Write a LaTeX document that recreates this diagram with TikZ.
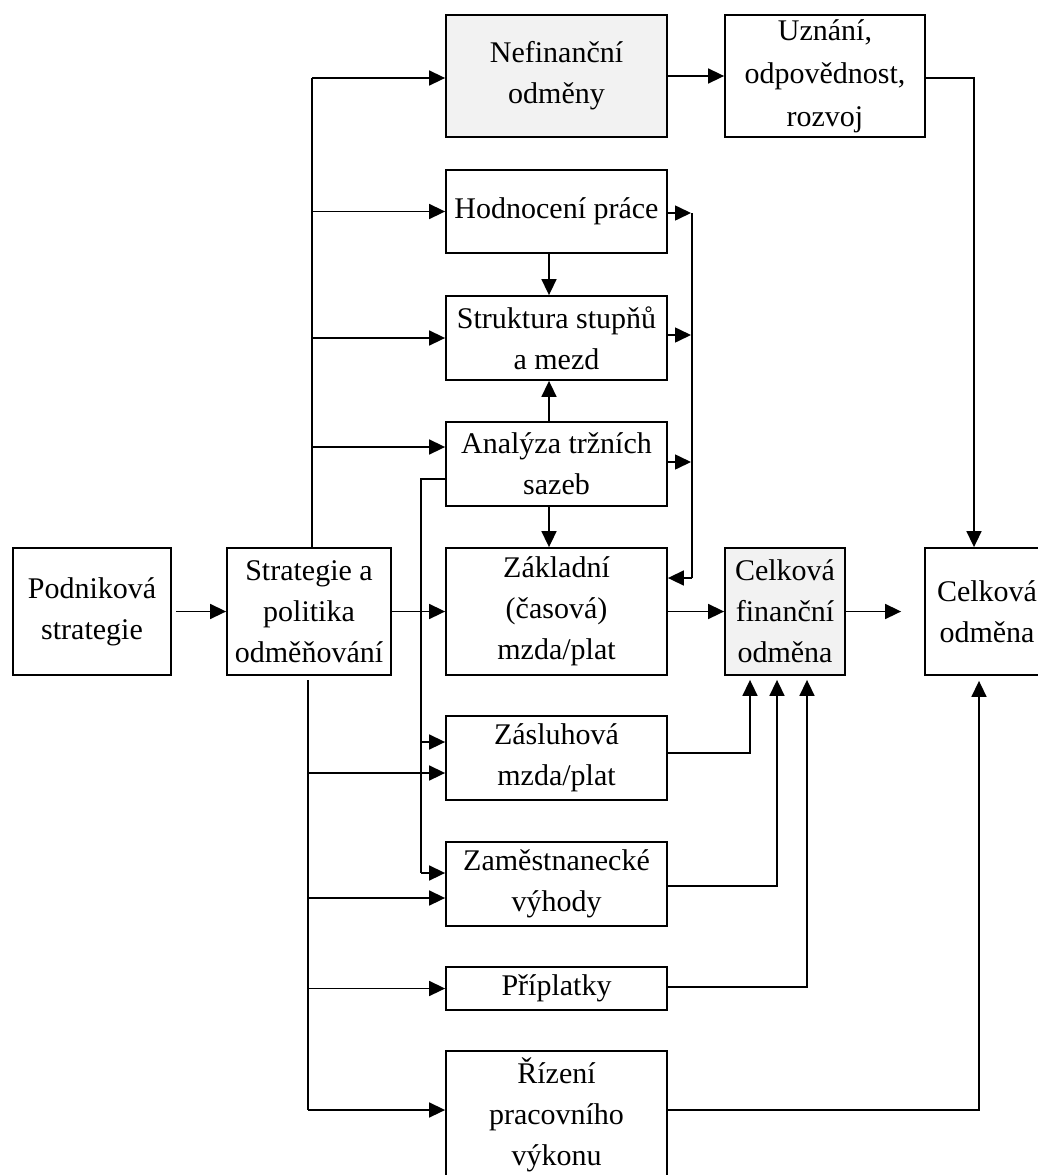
\documentclass[tikz,border=0pt]{standalone}
\usepackage{fontspec}
\setmainfont{Liberation Serif}
\usetikzlibrary{arrows.meta}
\definecolor{boxgray}{HTML}{F2F2F2}
\begin{document}
\begin{tikzpicture}[x=1pt,y=-1pt,
  bx/.style={draw,line width=1.8pt,inner sep=0pt,align=center,font=\fontsize{30}{41}\selectfont},
  mid/.style={bx,minimum width=221pt},
  gr/.style={fill=boxgray},
  ln/.style={line width=1.6pt},
  arr/.style={ln,-{Triangle[length=16pt,width=15pt]}}]
\useasboundingbox (0,0) rectangle (1038,1175);
\clip (0,0) rectangle (1038,1175);

% nodes
\node[bx,minimum width=158pt,minimum height=127pt] (pod) at (92,611.5) {Podniková\\strategie};
\node[bx,minimum width=164pt,minimum height=127pt] (strat) at (309,611.5) {Strategie a\\politika\\odměňování};
\node[mid,gr,minimum height=122pt] (nef) at (556.5,76) {Nefinanční\\odměny};
\node[bx,minimum width=200pt,minimum height=122pt,font=\fontsize{30}{43}\selectfont] (uzn) at (825,76) {Uznání,\\odpovědnost,\\rozvoj};
\node[mid,minimum height=83pt] (hod) at (556.5,211.5) {Hodnocení práce};
\node[mid,minimum height=84pt] (str) at (556.5,338) {Struktura stupňů\\a mezd};
\node[mid,minimum height=84pt] (ana) at (556.5,464) {Analýza tržních\\sazeb};
\node[mid,minimum height=127pt] (zak) at (556.5,611.5) {Základní\\(časová)\\mzda/plat};
\node[mid,minimum height=84pt] (zas) at (556.5,758) {Zásluhová\\mzda/plat};
\node[mid,minimum height=84pt] (zam) at (556.5,884) {Zaměstnanecké\\výhody};
\node[mid,minimum height=43pt] (pri) at (556.5,988.5) {Příplatky};
\node[mid,minimum height=127pt] (riz) at (556.5,1114.5) {Řízení\\pracovního\\výkonu};
\node[bx,gr,minimum width=120pt,minimum height=127pt] (cfo) at (785,611.5) {Celková\\finanční\\odměna};
\node[bx,minimum width=124pt,minimum height=127pt] (cod) at (987,611.5) {Celková\\odměna};

% left chain
\draw[arr,shorten <=4pt] (pod) -- (strat);
\draw[arr] (strat) -- (zak);

% upper trunk
\coordinate (tt) at (312,78);
\coordinate (ta) at (312,447);
\draw[ln] (strat.north -| tt) -- (tt);
\draw[arr] (tt) -- (tt -| nef.west);
\draw[arr] (tt |- hod.west) -- (hod.west);
\draw[arr] (tt |- str.west) -- (str.west);
\draw[arr] (ta) -- (ta -| ana.west);

% lower trunk
\coordinate (bt) at (308,680);
\coordinate (bb) at (308,1110);
\coordinate (b1) at (308,773);
\coordinate (b2) at (308,898);
\draw[ln] (bt) -- (bb);
\draw[arr] (b1) -- (b1 -| zas.west);
\draw[arr] (b2) -- (b2 -| zam.west);
\draw[arr] (bt |- pri.west) -- (pri.west);
\draw[arr] (bb) -- (bb -| riz.west);

% bus from market analysis
\coordinate (a0) at (421,479);
\coordinate (a1) at (421,873);
\coordinate (a2) at (421,742);
\draw[ln] (a0 -| ana.west) -- (a0) -- (a1);
\draw[arr] (a1) -- (a1 -| zam.west);
\draw[arr] (a2) -- (a2 -| zas.west);

% right bus
\coordinate (r0) at (692,213);
\coordinate (r2) at (692,335);
\coordinate (r3) at (692,462);
\coordinate (r1) at (692,578);
\draw[ln] (r0) -- (r1);
\draw[arr,shorten >=1pt] (r0 -| hod.east) -- (r0);
\draw[arr,shorten >=1pt] (r2 -| str.east) -- (r2);
\draw[arr,shorten >=1pt] (r3 -| ana.east) -- (r3);
\draw[arr] (r1) -- (r1 -| zak.east);

% column arrows
\coordinate (cx) at (549,0);
\draw[arr] (hod.south -| cx) -- (str.north -| cx);
\draw[arr] (ana.north -| cx) -- (str.south -| cx);
\draw[arr] (ana.south -| cx) -- (zak.north -| cx);

% right part
\draw[arr] (zak) -- (cfo);
\draw[arr,shorten >=23pt] (cfo) -- (cod);
\draw[arr] (nef) -- (uzn);
\coordinate (u1) at (974,78);
\draw[arr] (uzn.east |- u1) -- (u1) -- (u1 |- cod.north);

\coordinate (f1) at (750,753);
\coordinate (f2) at (777,886);
\coordinate (f3) at (807,987);
\draw[arr,shorten >=4pt] (f1 -| zas.east) -- (f1) -- (f1 |- cfo.south);
\draw[arr,shorten >=4pt] (f2 -| zam.east) -- (f2) -- (f2 |- cfo.south);
\draw[arr,shorten >=4pt] (f3 -| pri.east) -- (f3) -- (f3 |- cfo.south);

\coordinate (g1) at (979,1110);
\draw[arr,shorten >=5pt] (g1 -| riz.east) -- (g1) -- (g1 |- cod.south);
\end{tikzpicture}
\end{document}
